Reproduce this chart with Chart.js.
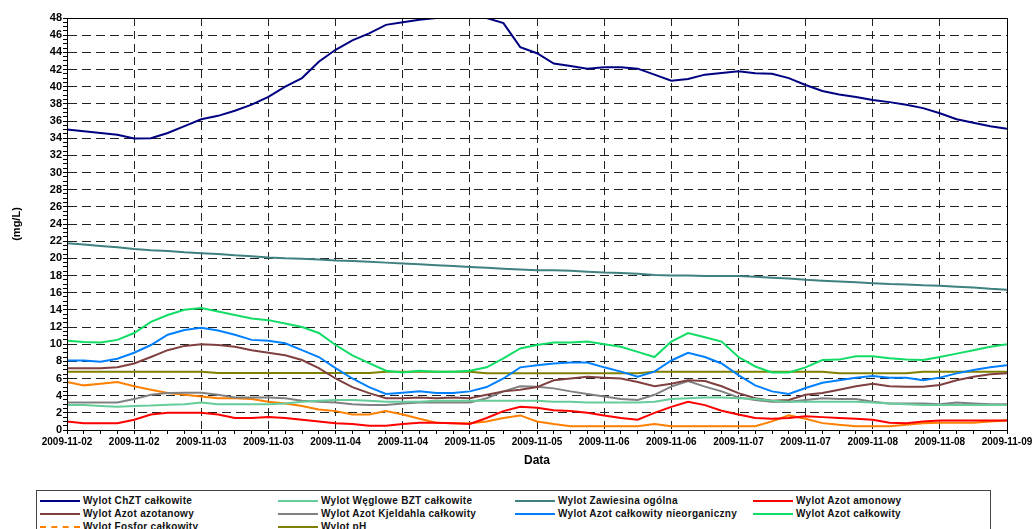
<!DOCTYPE html>
<html>
<head>
<meta charset="utf-8">
<title>Wylot</title>
<script src="https://cdn.jsdelivr.net/npm/chart.js@4.4.0/dist/chart.umd.min.js"></script>
<style>
    body { margin: 0; background: #fff; font-family: "Liberation Sans", Arial, sans-serif; }
    #wrap { position: relative; width: 1032px; height: 529px; overflow: hidden; }
    #wykres { position: absolute; left: 0; top: 0; }
    #legenda {
        position: absolute; left: 36px; top: 490px; width: 955px; height: 60px;
        border: 1px solid #444; box-sizing: border-box;
        display: grid; grid-template-columns: 238px 237px 238px 220px;
        padding: 3px 0 0 3px; align-content: start;
    }
    .poz { display: flex; align-items: center; height: 13px; font-weight: bold; font-size: 10px;
           letter-spacing: 0.3px; color: #111; white-space: nowrap; }
    .lin { width: 40px; height: 0; border-top: 2px solid; margin-right: 3px; }
</style>
</head>
<body>
<div id="wrap">
    <canvas id="wykres" width="1032" height="480"></canvas>
    <div id="legenda"></div>
</div>
<script>
// etykiety osi X (co 12 godzin)
const etykietyDat = [
    "2009-11-02", "2009-11-02", "2009-11-03", "2009-11-03", "2009-11-04",
    "2009-11-04", "2009-11-05", "2009-11-05", "2009-11-06", "2009-11-06",
    "2009-11-07", "2009-11-07", "2009-11-08", "2009-11-08", "2009-11-09"
];

// odczyty co 3 godziny
const chzt = [35.0, 34.8, 34.6, 34.4, 33.95, 34.0, 34.6, 35.4, 36.2, 36.6, 37.2, 37.9, 38.8, 40.0, 41.0, 42.9,
    44.3, 45.4, 46.2, 47.2, 47.5, 47.8, 48.0, 48.0, 48.0, 48.0, 47.4, 44.6, 43.9, 42.7, 42.4, 42.1, 42.25, 42.25,
    42.1, 41.4, 40.7, 40.9, 41.4, 41.6, 41.8, 41.55, 41.5, 41.0, 40.2, 39.5, 39.1, 38.8, 38.45, 38.2, 37.9, 37.5,
    36.9, 36.2, 35.8, 35.4, 35.1];
const bzt = [2.9, 2.9, 2.8, 2.7, 2.8, 2.85, 2.95, 3.0, 3.2, 3.0, 3.0, 3.0, 3.0, 3.1, 3.3, 3.4, 3.5, 3.5, 3.4,
    3.3, 3.3, 3.3, 3.4, 3.4, 3.4, 3.4, 3.4, 3.4, 3.4, 3.3, 3.3, 3.2, 3.2, 3.2, 3.2, 3.3, 3.6, 3.7, 3.8, 3.8, 3.7,
    3.6, 3.4, 3.3, 3.3, 3.3, 3.3, 3.3, 3.2, 3.1, 3.0, 2.9, 2.9, 2.9, 2.9, 2.9, 2.9];
const zawiesina = [21.75, 21.6, 21.45, 21.3, 21.1, 20.95, 20.85, 20.7, 20.6, 20.5, 20.35, 20.25, 20.1, 20.0,
    19.95, 19.85, 19.75, 19.7, 19.6, 19.5, 19.4, 19.3, 19.2, 19.1, 19.0, 18.9, 18.8, 18.7, 18.6, 18.6, 18.55,
    18.45, 18.35, 18.3, 18.2, 18.05, 18.0, 18.0, 17.95, 17.95, 17.95, 17.85, 17.75, 17.65, 17.5, 17.4, 17.3,
    17.2, 17.1, 17.0, 16.95, 16.85, 16.8, 16.7, 16.6, 16.45, 16.35];
const amonowy = [1.0, 0.8, 0.8, 0.8, 1.2, 1.8, 2.0, 2.0, 2.0, 1.8, 1.4, 1.4, 1.5, 1.4, 1.2, 1.0, 0.8, 0.7, 0.5,
    0.5, 0.7, 0.85, 0.85, 0.8, 0.7, 1.4, 2.2, 2.7, 2.6, 2.3, 2.2, 2.0, 1.7, 1.4, 1.2, 2.0, 2.7, 3.3, 2.9, 2.25,
    1.8, 1.4, 1.3, 1.4, 1.6, 1.5, 1.4, 1.3, 1.2, 0.85, 0.8, 1.0, 1.1, 1.1, 1.1, 1.1, 1.1];
const azotanowy = [7.2, 7.2, 7.2, 7.3, 7.75, 8.5, 9.3, 9.8, 10.0, 9.9, 9.7, 9.3, 9.0, 8.7, 8.15, 7.2, 6.0, 5.0,
    4.3, 3.7, 3.7, 3.8, 3.7, 3.8, 3.7, 4.1, 4.5, 4.7, 5.0, 5.8, 6.0, 6.2, 6.1, 6.0, 5.6, 5.1, 5.4, 5.8, 5.7, 5.1,
    4.3, 3.7, 3.4, 3.5, 4.1, 4.3, 4.7, 5.1, 5.4, 5.1, 5.05, 5.05, 5.25, 5.8, 6.2, 6.5, 6.6];
const kjeldahl = [3.2, 3.2, 3.2, 3.2, 3.6, 4.1, 4.3, 4.35, 4.35, 4.1, 3.8, 3.8, 3.8, 3.7, 3.4, 3.3, 3.2, 3.0,
    2.9, 2.9, 3.1, 3.2, 3.2, 3.2, 3.2, 3.7, 4.5, 5.1, 5.05, 4.85, 4.5, 4.2, 3.9, 3.6, 3.5, 4.1, 5.05, 5.7, 5.05,
    4.5, 3.8, 3.5, 3.3, 3.3, 3.5, 3.7, 3.6, 3.6, 3.3, 3.1, 3.1, 3.1, 3.0, 3.2, 3.1, 3.0, 3.0];
const nieorganiczny = [8.1, 8.1, 7.95, 8.3, 9.0, 9.9, 11.1, 11.65, 11.9, 11.6, 11.1, 10.5, 10.4, 10.1, 9.3, 8.5,
    7.2, 6.0, 5.0, 4.2, 4.35, 4.5, 4.3, 4.3, 4.5, 5.0, 6.0, 7.3, 7.55, 7.75, 7.85, 7.85, 7.3, 6.8, 6.2, 6.8, 8.1,
    9.0, 8.5, 7.75, 6.4, 5.2, 4.5, 4.2, 4.9, 5.5, 5.8, 6.1, 6.3, 6.1, 6.1, 5.8, 6.1, 6.6, 7.0, 7.3, 7.55];
const azotCalkowity = [10.4, 10.25, 10.2, 10.5, 11.3, 12.6, 13.4, 14.0, 14.2, 13.8, 13.4, 13.0, 12.8, 12.4, 12.0,
    11.3, 9.9, 8.7, 7.8, 6.9, 6.7, 6.9, 6.8, 6.8, 6.9, 7.3, 8.35, 9.5, 9.9, 10.2, 10.2, 10.3, 10.0, 9.7, 9.1, 8.5,
    10.3, 11.3, 10.8, 10.3, 8.5, 7.4, 6.7, 6.7, 7.3, 8.15, 8.2, 8.6, 8.6, 8.35, 8.2, 8.15, 8.5, 8.9, 9.3, 9.7, 10.0];
const fosfor = [5.6, 5.2, 5.4, 5.6, 5.1, 4.7, 4.3, 4.1, 3.9, 3.7, 3.7, 3.6, 3.3, 3.1, 2.8, 2.4, 2.2, 1.8, 1.8,
    2.2, 1.8, 1.3, 0.85, 0.8, 0.8, 1.0, 1.4, 1.7, 1.0, 0.7, 0.45, 0.45, 0.45, 0.45, 0.45, 0.7, 0.45, 0.45, 0.45,
    0.45, 0.45, 0.45, 1.0, 1.7, 1.3, 0.8, 0.6, 0.45, 0.45, 0.45, 0.6, 0.8, 0.85, 0.85, 0.85, 1.0, 1.1];
const ph = [6.8, 6.8, 6.8, 6.8, 6.8, 6.8, 6.8, 6.8, 6.8, 6.65, 6.65, 6.65, 6.65, 6.65, 6.65, 6.65, 6.65, 6.65,
    6.65, 6.8, 6.8, 6.8, 6.8, 6.8, 6.8, 6.6, 6.6, 6.6, 6.6, 6.6, 6.6, 6.6, 6.6, 6.6, 6.6, 6.8, 6.8, 6.8, 6.8, 6.8,
    6.8, 6.8, 6.8, 6.8, 6.8, 6.8, 6.6, 6.6, 6.6, 6.6, 6.6, 6.8, 6.8, 6.8, 6.8, 6.8, 6.8];

const godziny = chzt.map((_, i) => i * 3);

const serie = [
    { nazwa: "Wylot ChZT całkowite", dane: chzt, kolor: "#000080" },
    { nazwa: "Wylot Węglowe BZT całkowite", dane: bzt, kolor: "#66CC99" },
    { nazwa: "Wylot Zawiesina ogólna", dane: zawiesina, kolor: "#3F8080" },
    { nazwa: "Wylot Azot amonowy", dane: amonowy, kolor: "#FF0000" },
    { nazwa: "Wylot Azot azotanowy", dane: azotanowy, kolor: "#804040" },
    { nazwa: "Wylot Azot Kjeldahla całkowity", dane: kjeldahl, kolor: "#808080" },
    { nazwa: "Wylot Azot całkowity nieorganiczny", dane: nieorganiczny, kolor: "#0080FF" },
    { nazwa: "Wylot Azot całkowity", dane: azotCalkowity, kolor: "#11DD66" },
    { nazwa: "Wylot Fosfor całkowity", dane: fosfor, kolor: "#FF8000", kreski: true },
    { nazwa: "Wylot pH", dane: ph, kolor: "#808000" }
];

// ramka wokół obszaru wykresu
const ramka = {
    id: "ramka",
    afterDatasetsDraw(chart) {
        const { ctx, chartArea: a } = chart;
        ctx.save();
        ctx.strokeStyle = "#000";
        ctx.lineWidth = 1;
        ctx.strokeRect(a.left + 0.5, a.top + 0.5, a.right - a.left, a.bottom - a.top);
        ctx.restore();
    }
};

const czcionka = "'Liberation Sans', Arial, sans-serif";

new Chart(document.getElementById("wykres").getContext("2d"), {
    type: "line",
    data: {
        datasets: serie.map(s => ({
            label: s.nazwa,
            data: s.dane.map((v, i) => ({ x: godziny[i], y: v })),
            borderColor: s.kolor,
            backgroundColor: s.kolor,
            borderWidth: 2,
            pointRadius: 0,
            tension: 0,
            fill: false
        }))
    },
    options: {
        responsive: false,
        animation: false,
        layout: { padding: { left: 0, top: 18, right: 25, bottom: 0 } },
        plugins: {
            legend: { display: false },
            tooltip: { enabled: false }
        },
        scales: {
            x: {
                type: "linear",
                min: 0,
                max: 168,
                afterFit(scale) {
                    scale.height = 50;
                    scale.paddingLeft = 0;
                    scale.paddingRight = 0;
                },
                ticks: {
                    stepSize: 3,
                    autoSkip: false,
                    maxRotation: 0,
                    padding: 2,
                    color: "#000",
                    font: { family: czcionka, size: 10, weight: "bold" },
                    callback: v => (v % 12 === 0 ? etykietyDat[v / 12] : "")
                },
                grid: {
                    color: c => (c.tick && c.tick.value % 12 === 0 ? "#222" : "rgba(0,0,0,0)"),
                    tickColor: "#000",
                    tickLength: 4
                },
                border: { display: true, color: "#000", width: 1, dash: [8, 5] },
                title: {
                    display: true,
                    text: "Data",
                    color: "#000",
                    font: { family: czcionka, size: 12, weight: "bold" },
                    padding: { top: 0, bottom: 12 }
                }
            },
            y: {
                min: 0,
                max: 48,
                afterFit(scale) {
                    scale.width = 67;
                },
                ticks: {
                    stepSize: 0.5,
                    autoSkip: false,
                    padding: 1,
                    color: "#000",
                    font: { family: czcionka, size: 11, weight: "bold" },
                    callback: v => (v % 2 === 0 ? v : "")
                },
                grid: {
                    color: c => (c.tick && c.tick.value % 2 === 0 ? "#222" : "rgba(0,0,0,0)"),
                    tickColor: "#000",
                    tickLength: 4
                },
                border: { display: true, color: "#000", width: 1, dash: [9, 5] },
                title: {
                    display: true,
                    text: "(mg/L)",
                    color: "#000",
                    font: { family: czcionka, size: 11, weight: "bold" },
                    padding: { top: 10, bottom: 0 }
                }
            }
        }
    },
    plugins: [ramka]
});

// legenda w czterech kolumnach
const legenda = document.getElementById("legenda");
serie.forEach(s => {
    const poz = document.createElement("div");
    poz.className = "poz";
    const lin = document.createElement("span");
    lin.className = "lin";
    lin.style.borderTopColor = s.kolor;
    if (s.kreski) lin.style.borderTopStyle = "dashed";
    const txt = document.createElement("span");
    txt.textContent = s.nazwa;
    poz.appendChild(lin);
    poz.appendChild(txt);
    legenda.appendChild(poz);
});
</script>
</body>
</html>
